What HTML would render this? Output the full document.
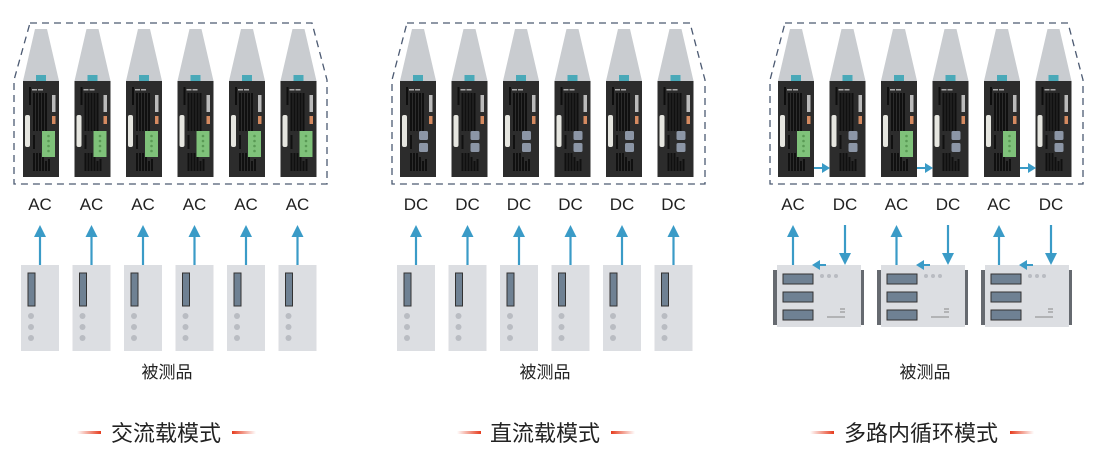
<!DOCTYPE html>
<html><head><meta charset="utf-8"><style>
html,body{margin:0;padding:0;background:#fff;width:1094px;height:454px;overflow:hidden}
svg{display:block}
text{font-family:"Liberation Sans","Noto Sans CJK SC",sans-serif;fill:#222}
</style></head><body>
<svg width="1094" height="454" viewBox="0 0 1094 454" xmlns="http://www.w3.org/2000/svg">
<defs>
<linearGradient id="rl" x1="0" x2="1"><stop offset="0" stop-color="#e63c1e" stop-opacity="0"/><stop offset="1" stop-color="#e63c1e"/></linearGradient>
<linearGradient id="rr" x1="0" x2="1"><stop offset="0" stop-color="#e63c1e"/><stop offset="1" stop-color="#e63c1e" stop-opacity="0"/></linearGradient>
<g id="dev">
<polygon points="-6,-52 6,-52 18,0 -18,0" fill="#c9ccd0"/>
<rect x="-5" y="-6" width="10" height="7" fill="#4aa9b8"/>
<rect x="-18" y="0" width="36" height="96" fill="#2c2c2c"/>
<rect x="-12" y="6" width="2" height="18" fill="#0e0e0e"/>
<rect x="-9" y="8" width="5" height="1.5" fill="#aaa"/><rect x="-3" y="8" width="5" height="1.5" fill="#aaa"/>
<g fill="#101010"><rect x="-8" y="12" width="2" height="38"/><rect x="-5" y="12" width="2" height="38"/><rect x="-2" y="12" width="2" height="38"/><rect x="1" y="12" width="2" height="38"/><rect x="4" y="12" width="2" height="38"/>
<rect x="-8" y="54" width="2" height="14"/><rect x="-8" y="72" width="2" height="18"/><rect x="-5" y="72" width="2" height="18"/><rect x="-2" y="72" width="2" height="18"/><rect x="1" y="76" width="2" height="14"/><rect x="4" y="80" width="2" height="10"/><rect x="7" y="78" width="2" height="12"/></g>
<rect x="-16" y="34" width="5" height="32" rx="2" fill="#e6e6e0"/>
<rect x="11" y="14" width="3.5" height="17" fill="#bbb"/>
<rect x="11" y="35" width="3.5" height="8" fill="#d58a60"/>
</g>
<g id="green"><rect x="1" y="50" width="13" height="26" fill="#7fc27a"/><g fill="#5a9a55"><circle cx="7.5" cy="55" r="1.3"/><circle cx="7.5" cy="60" r="1.3"/><circle cx="7.5" cy="65" r="1.3"/><circle cx="7.5" cy="70" r="1.3"/></g></g>
<g id="gray"><rect x="1" y="50" width="9" height="9" rx="1.5" fill="#8c96a6"/><rect x="1" y="62" width="9" height="9" rx="1.5" fill="#8c96a6"/></g>
<g id="ua"><line x1="0" y1="265" x2="0" y2="235" stroke="#3a9bc7" stroke-width="2.2"/><polygon points="-6,237 6,237 0,225" fill="#3a9bc7"/></g>
<g id="da"><line x1="0" y1="225" x2="0" y2="255" stroke="#3a9bc7" stroke-width="2.2"/><polygon points="-6,253 6,253 0,265" fill="#3a9bc7"/></g>
<g id="box"><rect x="-19" y="265" width="38" height="86" fill="#dcdee2"/><rect x="-12" y="273" width="7" height="33" fill="#6f8193" stroke="#333" stroke-width="1"/><g fill="#b9bcc2"><circle cx="-9" cy="316" r="3"/><circle cx="-9" cy="327" r="3"/><circle cx="-9" cy="338" r="3"/></g></g>
<g id="rack"><rect x="-4" y="270" width="4" height="55" fill="#666a70"/><rect x="83" y="270" width="4" height="55" fill="#666a70"/><rect x="0" y="265" width="84" height="62" fill="#dcdee2"/>
<g fill="#6f8193" stroke="#333" stroke-width="1"><rect x="6" y="274" width="30" height="10"/><rect x="6" y="292" width="30" height="10"/><rect x="6" y="310" width="30" height="10"/></g>
<g fill="#b9bcc2"><circle cx="45" cy="276" r="2"/><circle cx="52" cy="276" r="2"/><circle cx="59" cy="276" r="2"/></g>
<g stroke="#888" stroke-width="1"><line x1="63" y1="309" x2="68" y2="309"/><line x1="63" y1="312" x2="68" y2="312"/><line x1="50" y1="317" x2="68" y2="317"/></g></g>
</defs>

<g fill="none" stroke="#4c5a72" stroke-width="1.3" stroke-dasharray="7,5">
<polygon points="30,23 312,23 327,80 327,184 14,184 14,80"/>
<polygon points="407,23 690,23 705,80 705,184 392,184 392,80"/>
<polygon points="785,23 1068,23 1083,80 1083,184 770,184 770,80"/>
</g>

<!-- group 1 -->
<g transform="translate(41,81)"><use href="#dev"/><use href="#green"/></g>
<g transform="translate(92.5,81)"><use href="#dev"/><use href="#green"/></g>
<g transform="translate(144,81)"><use href="#dev"/><use href="#green"/></g>
<g transform="translate(195.5,81)"><use href="#dev"/><use href="#green"/></g>
<g transform="translate(247,81)"><use href="#dev"/><use href="#green"/></g>
<g transform="translate(298.5,81)"><use href="#dev"/><use href="#green"/></g>
<!-- group 2 -->
<g transform="translate(418,81)"><use href="#dev"/><use href="#gray"/></g>
<g transform="translate(469.5,81)"><use href="#dev"/><use href="#gray"/></g>
<g transform="translate(521,81)"><use href="#dev"/><use href="#gray"/></g>
<g transform="translate(572.5,81)"><use href="#dev"/><use href="#gray"/></g>
<g transform="translate(624,81)"><use href="#dev"/><use href="#gray"/></g>
<g transform="translate(675.5,81)"><use href="#dev"/><use href="#gray"/></g>
<!-- group 3 -->
<g transform="translate(796,81)"><use href="#dev"/><use href="#green"/></g>
<g transform="translate(847.5,81)"><use href="#dev"/><use href="#gray"/></g>
<g transform="translate(899,81)"><use href="#dev"/><use href="#green"/></g>
<g transform="translate(950.5,81)"><use href="#dev"/><use href="#gray"/></g>
<g transform="translate(1002,81)"><use href="#dev"/><use href="#green"/></g>
<g transform="translate(1053.5,81)"><use href="#dev"/><use href="#gray"/></g>
<g fill="#3a9bc7" stroke="#3a9bc7" stroke-width="2">
<line x1="814" y1="168" x2="824" y2="168"/><polygon points="822,163 830,168 822,173" stroke="none"/>
<line x1="917" y1="168" x2="927" y2="168"/><polygon points="925,163 933,168 925,173" stroke="none"/>
<line x1="1020" y1="168" x2="1030" y2="168"/><polygon points="1028,163 1036,168 1028,173" stroke="none"/>
</g>

<g font-size="17" text-anchor="middle">
<text x="40" y="210">AC</text><text x="91.5" y="210">AC</text><text x="143" y="210">AC</text><text x="194.5" y="210">AC</text><text x="246" y="210">AC</text><text x="297.5" y="210">AC</text>
<text x="416" y="210">DC</text><text x="467.5" y="210">DC</text><text x="519" y="210">DC</text><text x="570.5" y="210">DC</text><text x="622" y="210">DC</text><text x="673.5" y="210">DC</text>
<text x="793" y="210">AC</text><text x="845" y="210">DC</text><text x="896.5" y="210">AC</text><text x="948" y="210">DC</text><text x="999" y="210">AC</text><text x="1051" y="210">DC</text>
</g>

<g transform="translate(40,0)"><use href="#ua"/><use href="#box"/></g>
<g transform="translate(91.5,0)"><use href="#ua"/><use href="#box"/></g>
<g transform="translate(143,0)"><use href="#ua"/><use href="#box"/></g>
<g transform="translate(194.5,0)"><use href="#ua"/><use href="#box"/></g>
<g transform="translate(246,0)"><use href="#ua"/><use href="#box"/></g>
<g transform="translate(297.5,0)"><use href="#ua"/><use href="#box"/></g>
<g transform="translate(416,0)"><use href="#ua"/><use href="#box"/></g>
<g transform="translate(467.5,0)"><use href="#ua"/><use href="#box"/></g>
<g transform="translate(519,0)"><use href="#ua"/><use href="#box"/></g>
<g transform="translate(570.5,0)"><use href="#ua"/><use href="#box"/></g>
<g transform="translate(622,0)"><use href="#ua"/><use href="#box"/></g>
<g transform="translate(673.5,0)"><use href="#ua"/><use href="#box"/></g>

<g transform="translate(777,0)"><use href="#rack"/></g>
<g transform="translate(881,0)"><use href="#rack"/></g>
<g transform="translate(985,0)"><use href="#rack"/></g>
<g transform="translate(793,0)"><use href="#ua"/></g><g transform="translate(845,0)"><use href="#da"/></g>
<g transform="translate(896.5,0)"><use href="#ua"/></g><g transform="translate(948,0)"><use href="#da"/></g>
<g transform="translate(999,0)"><use href="#ua"/></g><g transform="translate(1051,0)"><use href="#da"/></g>
<g fill="#3a9bc7" stroke="#3a9bc7" stroke-width="2">
<line x1="826" y1="265" x2="818" y2="265"/><polygon points="820,260 812,265 820,270" stroke="none"/>
<line x1="930" y1="265" x2="922" y2="265"/><polygon points="924,260 916,265 924,270" stroke="none"/>
<line x1="1033" y1="265" x2="1025" y2="265"/><polygon points="1027,260 1019,265 1027,270" stroke="none"/>
</g>

<g font-size="17" text-anchor="middle">
<text x="167" y="378">被测品</text><text x="545" y="378">被测品</text><text x="925" y="378">被测品</text>
</g>
<g font-size="22" text-anchor="middle">
<text x="166" y="441">交流载模式</text><text x="545" y="441">直流载模式</text><text x="921" y="441">多路内循环模式</text>
</g>
<rect x="77" y="431" width="24" height="3" fill="url(#rl)"/><rect x="232" y="431" width="24" height="3" fill="url(#rr)"/>
<rect x="457" y="431" width="24" height="3" fill="url(#rl)"/><rect x="611" y="431" width="24" height="3" fill="url(#rr)"/>
<rect x="810" y="431" width="24" height="3" fill="url(#rl)"/><rect x="1010" y="431" width="24" height="3" fill="url(#rr)"/>
</svg>
</body></html>
